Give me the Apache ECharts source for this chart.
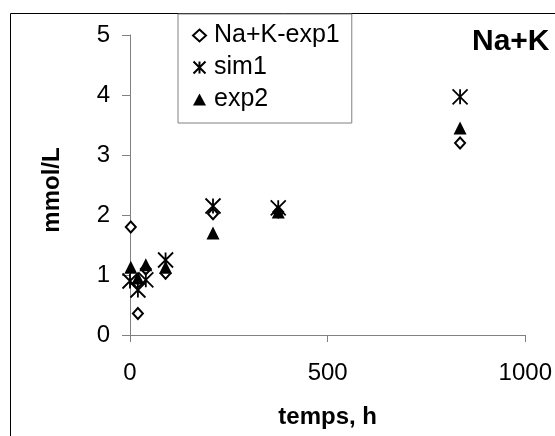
<!DOCTYPE html>
<html>
<head>
<meta charset="utf-8">
<script src="https://cdn.jsdelivr.net/npm/echarts@6/dist/echarts.min.js"></script>
<style>
  html, body { margin: 0; padding: 0; background: #fff; }
  #chart { width: 555px; height: 436px; }
</style>
</head>
<body>
<div id="chart"></div>
<script>
// temps (h) / concentration (mmol/L)
const exp1Hours = [2, 20, 40, 90, 210, 375, 835]
const exp1Values = [1.8, 0.36, 1.1, 1.03, 2.02, 2.05, 3.2]
const sim1Hours = [0, 20, 40, 90, 210, 375, 835]
const sim1Values = [0.9, 0.75, 0.92, 1.25, 2.15, 2.12, 3.97]
const exp2Hours = [2, 20, 40, 90, 210, 375, 835]
const exp2Values = [1.13, 0.95, 1.17, 1.13, 1.7, 2.05, 3.45]
const xTicks = [0, 500, 1000]
const yTicks = [0, 1, 2, 3, 4, 5]

const pairs = (xs, ys) => xs.map((x, i) => [x, ys[i]])
const starPath = 'path://M0,0L10,10M10,0L0,10M5,0L5,10'
const font = 'Liberation Sans, Arial, sans-serif'

let myChart = echarts.init(document.getElementById('chart'), null, { renderer: 'canvas' })
let option = {
  backgroundColor: '#fff',
  animation: false,
  title: {
    text: 'Na+K',
    left: 472,
    top: 27,
    padding: 0,
    textStyle: { fontFamily: font, fontSize: 30, fontWeight: 'bold', color: '#000' }
  },
  legend: {
    orient: 'vertical',
    left: 178,
    top: 14,
    padding: [9, 12, 11, 14],
    itemGap: 7,
    itemWidth: 13,
    itemHeight: 12,
    borderColor: '#808080',
    borderWidth: 1,
    textStyle: { fontFamily: font, fontSize: 25, color: '#000', padding: [0, 0, 0, 3] },
    data: ['Na+K-exp1', 'sim1', 'exp2']
  },
  grid: { left: 130, right: 27, top: 35, bottom: 101 },
  xAxis: {
    type: 'value',
    min: xTicks[0],
    max: xTicks[xTicks.length - 1],
    interval: 500,
    name: 'temps, h',
    nameLocation: 'middle',
    nameGap: 70,
    nameTextStyle: { fontFamily: font, fontSize: 24, fontWeight: 'bold', color: '#000' },
    axisLine: { lineStyle: { color: '#808080', width: 1 } },
    axisTick: { length: 7, lineStyle: { color: '#808080' } },
    axisLabel: { margin: 26, fontFamily: font, fontSize: 24, color: '#000', formatter: v => String(v) },
    splitLine: { show: false }
  },
  yAxis: {
    type: 'value',
    min: yTicks[0],
    max: yTicks[yTicks.length - 1],
    interval: 1,
    name: 'mmol/L',
    nameLocation: 'middle',
    nameGap: 66,
    nameTextStyle: { fontFamily: font, fontSize: 24, fontWeight: 'bold', color: '#000', padding: [0, 10, 0, 0] },
    axisLine: { show: true, lineStyle: { color: '#808080', width: 1 } },
    axisTick: { show: true, length: 8, lineStyle: { color: '#808080' } },
    axisLabel: { margin: 20, fontFamily: font, fontSize: 24, color: '#000' },
    splitLine: { show: false }
  },
  graphic: [{
    type: 'rect',
    shape: { x: 10.5, y: 13.5, width: 700, height: 600 },
    style: { fill: 'none', stroke: '#000', lineWidth: 1 },
    z: 0
  }],
  series: [
    {
      name: 'Na+K-exp1',
      type: 'scatter',
      symbol: 'emptyDiamond',
      symbolSize: [10, 11],
      itemStyle: { color: '#000', borderColor: '#000', borderWidth: 1.5, opacity: 1 },
      data: pairs(exp1Hours, exp1Values)
    },
    {
      name: 'sim1',
      type: 'scatter',
      symbol: starPath,
      symbolSize: 15,
      itemStyle: { color: 'transparent', borderColor: '#000', borderWidth: 1.8, opacity: 1 },
      data: pairs(sim1Hours, sim1Values)
    },
    {
      name: 'exp2',
      type: 'scatter',
      symbol: 'triangle',
      symbolSize: 13,
      itemStyle: { color: '#000', opacity: 1 },
      data: pairs(exp2Hours, exp2Values)
    }
  ]
}
myChart.setOption(option)
</script>
</body>
</html>
